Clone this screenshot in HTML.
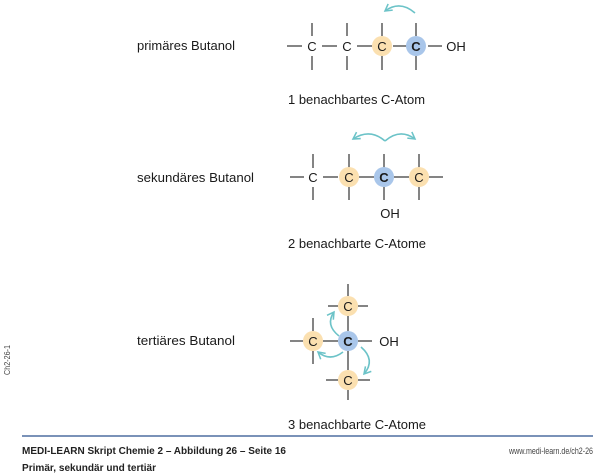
<!DOCTYPE html>
<html><head><meta charset="utf-8"><style>
html,body{margin:0;padding:0;background:#fff;}
svg{display:block;font-family:"Liberation Sans",sans-serif;}
</style></head><body>
<svg width="600" height="476" viewBox="0 0 600 476" xmlns="http://www.w3.org/2000/svg">
<defs>
<marker id="ah" viewBox="0 0 10 10" refX="8" refY="5" markerWidth="6" markerHeight="6" orient="auto-start-reverse">
<path d="M1,1 L8,5 L1,9" fill="none" stroke="#6cc3c8" stroke-width="1.6"/>
</marker>
</defs>
<g fill="#1a1a1a" font-size="12.5">
<text x="137" y="50" textLength="98" lengthAdjust="spacingAndGlyphs">primäres Butanol</text>
<text x="288" y="104" textLength="137" lengthAdjust="spacingAndGlyphs">1 benachbartes C-Atom</text>
<text x="137" y="182" textLength="117" lengthAdjust="spacingAndGlyphs">sekundäres Butanol</text>
<text x="288" y="248" textLength="138" lengthAdjust="spacingAndGlyphs">2 benachbarte C-Atome</text>
<text x="137" y="345" textLength="98" lengthAdjust="spacingAndGlyphs">tertiäres Butanol</text>
<text x="288" y="429" textLength="138" lengthAdjust="spacingAndGlyphs">3 benachbarte C-Atome</text>
</g>
<g stroke="#333" stroke-width="1.2">
<!-- row1 -->
<line x1="287" y1="46" x2="302" y2="46"/><line x1="322" y1="46" x2="337" y2="46"/><line x1="357" y1="46" x2="372" y2="46"/><line x1="393" y1="46" x2="408" y2="46"/><line x1="428" y1="46" x2="442" y2="46"/>
<line x1="312" y1="23" x2="312" y2="36"/><line x1="312" y1="56" x2="312" y2="70"/>
<line x1="347" y1="23" x2="347" y2="36"/><line x1="347" y1="56" x2="347" y2="70"/>
<line x1="382" y1="23" x2="382" y2="36"/><line x1="382" y1="56" x2="382" y2="70"/>
<line x1="416" y1="23" x2="416" y2="36"/><line x1="416" y1="56" x2="416" y2="70"/>
<!-- row2 -->
<line x1="290" y1="177" x2="304" y2="177"/><line x1="323" y1="177" x2="338" y2="177"/><line x1="359" y1="177" x2="374" y2="177"/><line x1="394" y1="177" x2="409" y2="177"/><line x1="429" y1="177" x2="443" y2="177"/>
<line x1="313" y1="154" x2="313" y2="168"/><line x1="313" y1="187" x2="313" y2="200"/>
<line x1="349" y1="154" x2="349" y2="168"/><line x1="349" y1="187" x2="349" y2="200"/>
<line x1="384" y1="154" x2="384" y2="168"/><line x1="384" y1="187" x2="384" y2="200"/>
<line x1="419" y1="154" x2="419" y2="168"/><line x1="419" y1="187" x2="419" y2="200"/>
<!-- row3 -->
<line x1="348" y1="284" x2="348" y2="296"/><line x1="328" y1="306" x2="338" y2="306"/><line x1="358" y1="306" x2="368" y2="306"/><line x1="348" y1="316" x2="348" y2="331"/>
<line x1="290" y1="341" x2="303" y2="341"/><line x1="313" y1="318" x2="313" y2="331"/><line x1="313" y1="351" x2="313" y2="364"/><line x1="323" y1="341" x2="338" y2="341"/><line x1="358" y1="341" x2="372" y2="341"/>
<line x1="348" y1="351" x2="348" y2="370"/><line x1="326" y1="380" x2="338" y2="380"/><line x1="358" y1="380" x2="370" y2="380"/><line x1="348" y1="390" x2="348" y2="400"/>
</g>
<g>
<circle cx="382" cy="46" r="10" fill="#fbe0b0"/><circle cx="416" cy="46" r="10" fill="#a9c6ea"/>
<circle cx="349" cy="177" r="10" fill="#fbe0b0"/><circle cx="384" cy="177" r="10" fill="#a9c6ea"/><circle cx="419" cy="177" r="10" fill="#fbe0b0"/>
<circle cx="348" cy="306" r="10" fill="#fbe0b0"/><circle cx="313" cy="341" r="10" fill="#fbe0b0"/><circle cx="348" cy="341" r="10" fill="#a9c6ea"/><circle cx="348" cy="380" r="10" fill="#fbe0b0"/>
</g>
<g font-size="13" fill="#1a1a1a" text-anchor="middle">
<text x="312" y="51">C</text><text x="347" y="51">C</text><text x="382" y="51">C</text><text x="416" y="51" font-weight="bold">C</text>
<text x="456" y="51">OH</text>
<text x="313" y="182">C</text><text x="349" y="182">C</text><text x="384" y="182" font-weight="bold">C</text><text x="419" y="182">C</text>
<text x="390" y="218">OH</text>
<text x="348" y="311">C</text><text x="313" y="346">C</text><text x="348" y="346" font-weight="bold">C</text><text x="348" y="385">C</text>
<text x="389" y="346">OH</text>
</g>
<g fill="none" stroke="#6cc3c8" stroke-width="1.6">
<path d="M415,13 Q400,0 385,11" marker-end="url(#ah)"/>
<path d="M385,141 Q370,128 353,139" marker-end="url(#ah)"/>
<path d="M385,141 Q400,128 415,139" marker-end="url(#ah)"/>
<path d="M339,336 Q325,325 334,312" marker-end="url(#ah)"/>
<path d="M343,352 Q330,362 318,352" marker-end="url(#ah)"/>
<path d="M361,347 Q376,360 364,374" marker-end="url(#ah)"/>
</g>
<line x1="22" y1="436" x2="593" y2="436" stroke="#4e6fa0" stroke-width="1.5"/>
<text x="22" y="454" font-size="10.5" font-weight="bold" fill="#222" textLength="264" lengthAdjust="spacingAndGlyphs">MEDI-LEARN Skript Chemie 2 – Abbildung 26 – Seite 16</text>
<text x="22" y="471" font-size="10.5" font-weight="bold" fill="#222" textLength="134" lengthAdjust="spacingAndGlyphs">Primär, sekundär und tertiär</text>
<text x="593" y="454" font-size="9.5" fill="#444" text-anchor="end" textLength="84" lengthAdjust="spacingAndGlyphs">www.medi-learn.de/ch2-26</text>
<text transform="translate(10,375) rotate(-90)" font-size="8" fill="#444" textLength="30" lengthAdjust="spacingAndGlyphs">Ch2-26-1</text>
</svg>
</body></html>
